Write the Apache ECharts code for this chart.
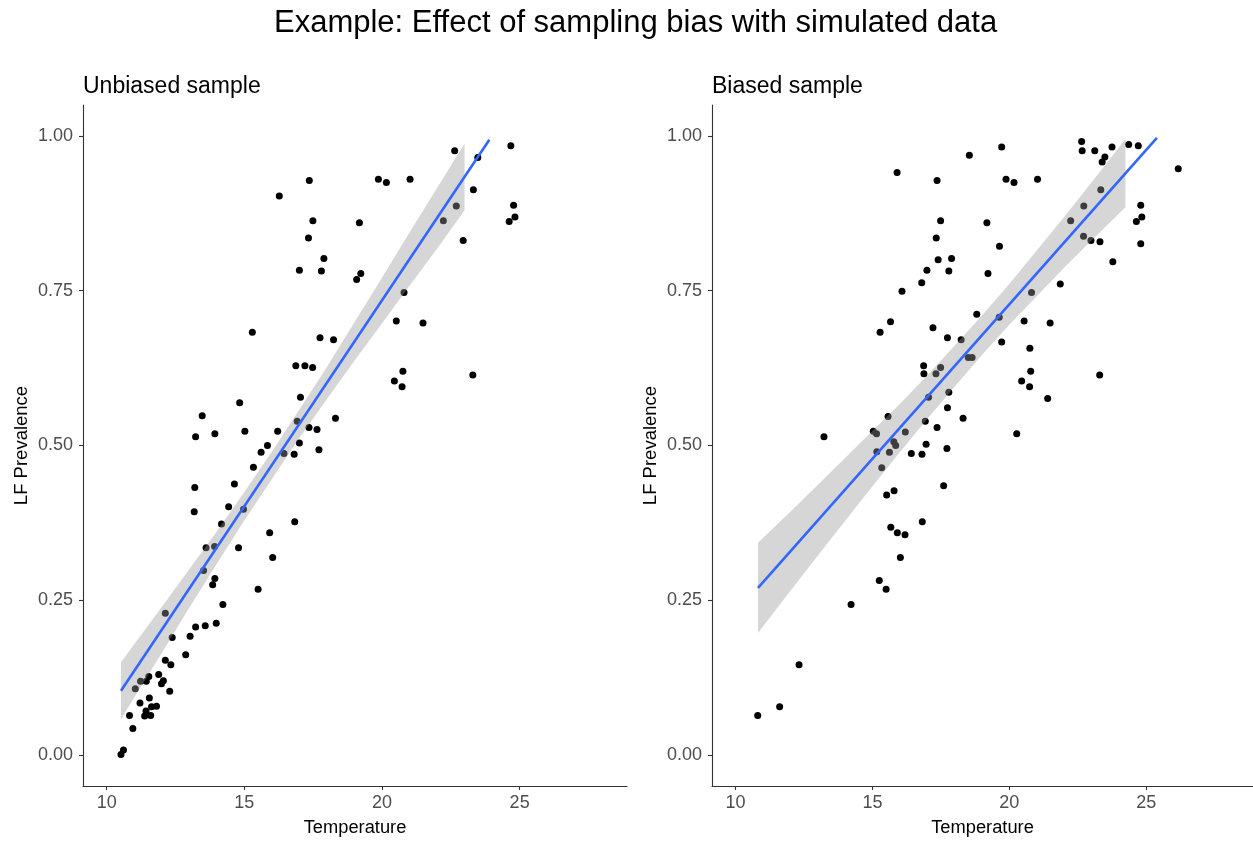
<!DOCTYPE html>
<html>
<head>
<meta charset="utf-8">
<script src="https://cdn.jsdelivr.net/npm/echarts@6/dist/echarts.min.js"></script>
<style>
html,body{margin:0;padding:0;background:#fff;}
#chart{width:1253px;height:842px;}
</style>
</head>
<body>
<div id="chart"></div>
<script>
// ---------- data ----------
const mainTitle = "Example: Effect of sampling bias with simulated data";
const panelTitles = ["Unbiased sample", "Biased sample"];
const xAxisTitle = "Temperature";
const yAxisTitle = "LF Prevalence";
const xTicks = [10, 15, 20, 25];
const yTicks = [0, 0.25, 0.5, 0.75, 1];

// Unbiased sample points [temperature, prevalence]
const unbiasedPoints = [
  [17.36,0.928],[16.27,0.903],[17.49,0.863],[17.33,0.835],[17.89,0.802],[17.00,0.783],[17.80,0.782],
  [19.18,0.860],[19.08,0.768],[19.23,0.778],[15.29,0.683],[17.75,0.674],[18.24,0.671],[16.87,0.629],
  [17.20,0.629],[17.48,0.626],[17.04,0.578],[14.83,0.569],[13.47,0.548],[13.23,0.514],[13.93,0.519],
  [15.02,0.523],[16.21,0.523],[18.31,0.544],[17.35,0.529],[17.64,0.526],[16.92,0.539],[17.00,0.504],
  [15.84,0.500],[17.71,0.493],[15.61,0.489],[16.44,0.487],[16.81,0.486],[15.33,0.465],[14.64,0.438],
  [13.20,0.432],[14.43,0.401],[14.97,0.397],[13.18,0.393],[14.17,0.373],[16.83,0.377],[15.92,0.359],
  [13.61,0.335],[13.92,0.337],[14.79,0.335],[16.03,0.319],[13.52,0.298],[13.93,0.285],[13.85,0.275],
  [15.50,0.268],[14.22,0.243],[12.13,0.229],[13.23,0.207],[13.58,0.209],[13.98,0.213],[13.03,0.192],
  [12.38,0.190],[12.87,0.162],[12.13,0.153],[12.33,0.146],[11.89,0.130],[11.53,0.127],[11.44,0.119],
  [11.23,0.119],[12.06,0.120],[11.99,0.115],[11.04,0.107],[12.29,0.103],[11.21,0.084],[11.55,0.092],
  [11.81,0.079],[11.63,0.078],[11.43,0.071],[11.38,0.063],[11.60,0.064],[10.83,0.064],[10.95,0.043],
  [10.61,0.008],[10.52,0.001],[22.64,0.976],[23.48,0.965],[24.68,0.984],[19.87,0.930],[20.16,0.925],
  [21.02,0.930],[23.32,0.913],[22.70,0.887],[22.23,0.863],[24.78,0.888],[24.83,0.869],[24.62,0.862],
  [22.95,0.831],[20.80,0.747],[20.52,0.701],[21.49,0.698],[20.76,0.620],[20.45,0.604],[20.73,0.595],
  [23.30,0.614]
];

// Biased sample points [temperature, prevalence]
const biasedPoints = [
  [18.54,0.969],[15.90,0.941],[17.36,0.928],[17.49,0.863],[19.18,0.860],[17.33,0.835],[17.40,0.800],
  [17.89,0.802],[16.99,0.783],[17.79,0.782],[19.22,0.778],[16.80,0.763],[16.08,0.749],[18.81,0.712],
  [15.66,0.700],[15.28,0.683],[17.21,0.690],[17.74,0.674],[18.24,0.671],[18.50,0.642],[18.64,0.642],
  [16.87,0.629],[16.88,0.616],[17.49,0.626],[17.32,0.616],[17.05,0.578],[17.79,0.586],[17.74,0.561],
  [15.57,0.547],[18.31,0.544],[16.93,0.539],[17.36,0.529],[13.23,0.514],[15.03,0.523],[15.15,0.519],
  [16.20,0.522],[16.96,0.502],[17.72,0.495],[15.78,0.506],[15.85,0.500],[15.16,0.490],[15.62,0.489],
  [16.42,0.487],[16.81,0.486],[15.34,0.464],[15.52,0.420],[15.79,0.427],[17.60,0.435],[16.82,0.377],
  [15.67,0.368],[15.91,0.359],[16.19,0.356],[16.02,0.319],[15.25,0.282],[15.50,0.268],[14.22,0.243],
  [12.32,0.146],[11.61,0.078],[10.81,0.064],[22.64,0.991],[22.66,0.976],[23.12,0.976],[23.75,0.982],
  [24.36,0.986],[24.71,0.984],[23.49,0.966],[23.39,0.958],[19.72,0.982],[26.17,0.947],[19.88,0.930],
  [20.17,0.925],[21.03,0.930],[23.34,0.913],[22.72,0.887],[22.24,0.863],[24.80,0.888],[24.84,0.869],
  [24.64,0.862],[22.71,0.838],[22.98,0.831],[23.31,0.829],[24.80,0.826],[19.64,0.822],[23.78,0.797],
  [21.86,0.761],[20.81,0.747],[19.63,0.707],[20.54,0.701],[21.49,0.698],[19.72,0.667],[20.75,0.657],
  [20.78,0.620],[20.45,0.604],[20.74,0.595],[23.30,0.614],[21.40,0.576],[20.27,0.519]
];

// Fitted lines (end points)
const unbiasedFitX = [10.52, 23.90];
const unbiasedFitY = [0.104, 0.994];
const biasedFitX = [10.82, 25.39];
const biasedFitY = [0.270, 0.997];

// Confidence bands
const unbiasedBandX     = [10.52, 11, 12, 13, 14, 15, 16, 17, 18, 19, 20, 21, 22, 23.0];
const unbiasedBandLower = [0.058,0.093,0.165,0.238,0.309,0.379,0.446,0.512,0.575,0.637,0.697,0.758,0.818,0.880];
const unbiasedBandUpper = [0.150,0.179,0.239,0.300,0.361,0.425,0.490,0.558,0.627,0.699,0.771,0.844,0.916,0.988];
const biasedBandX     = [10.82, 12, 13, 14, 15, 16, 17, 18, 19, 20, 21, 22, 23, 24.24];
const biasedBandLower = [0.197,0.265,0.322,0.378,0.434,0.489,0.543,0.595,0.646,0.695,0.741,0.787,0.831,0.885];
const biasedBandUpper = [0.343,0.393,0.436,0.480,0.524,0.567,0.613,0.661,0.710,0.761,0.815,0.869,0.925,0.995];

// ---------- chart ----------
const FONT = "Liberation Sans, Arial, Helvetica, sans-serif";
const chart = echarts.init(document.getElementById('chart'), null, {renderer: 'canvas'});

function zip(xs, ys){ return xs.map((x,i)=>[x, ys[i]]); }
function bandData(xs, lo, hi){ return xs.map((x,i)=>[x, lo[i], hi[i]]); }

function xAxisDef(gi){
  return {
    type:'value', gridIndex:gi, min:9.14, max:28.9,
    splitLine:{show:false},
    axisLine:{show:true, onZero:false, lineStyle:{color:'#333', width:1.1}},
    axisTick:{show:true, length:4, customValues:xTicks, lineStyle:{color:'#333', width:1.1}},
    axisLabel:{show:true, customValues:xTicks, color:'#4d4d4d', fontSize:18, fontFamily:FONT, margin:8},
    name:xAxisTitle, nameLocation:'middle', nameGap:33,
    nameTextStyle:{color:'#000', fontSize:18.3, fontFamily:FONT}
  };
}
function yAxisDef(gi){
  return {
    type:'value', gridIndex:gi, min:-0.05, max:1.05,
    splitLine:{show:false},
    axisLine:{show:true, onZero:false, lineStyle:{color:'#333', width:1.1}},
    axisTick:{show:true, length:4, customValues:yTicks, lineStyle:{color:'#333', width:1.1}},
    axisLabel:{show:true, customValues:yTicks, color:'#4d4d4d', fontSize:18, fontFamily:FONT, margin:10,
      formatter:function(v){ return v.toFixed(2); }},
    name:yAxisTitle, nameLocation:'middle', nameGap:52, nameRotate:90,
    nameTextStyle:{color:'#000', fontSize:18.5, fontFamily:FONT}
  };
}

function bandSeries(gi, xs, lo, hi){
  const data = bandData(xs, lo, hi);
  return {
    type:'custom', xAxisIndex:gi, yAxisIndex:gi, z:3, silent:true,
    data:data,
    encode:{x:0, y:[1,2]},
    renderItem:function(params, api){
      if (params.dataIndex !== 0) return {type:'group', children:[]};
      const pts = [];
      for (let i=0;i<data.length;i++) pts.push(api.coord([data[i][0], data[i][2]]));
      for (let i=data.length-1;i>=0;i--) pts.push(api.coord([data[i][0], data[i][1]]));
      return {type:'polygon', shape:{points:pts}, style:{fill:'rgba(153,153,153,0.4)', stroke:null}};
    }
  };
}

const option = {
  backgroundColor:'#fff',
  animation:false,
  title:[
    {text:mainTitle, left:274, top:8, padding:0, textStyle:{fontSize:31, fontWeight:'normal', color:'#000', fontFamily:FONT}},
    {text:panelTitles[0], left:83, top:75, padding:0, textStyle:{fontSize:23, fontWeight:'normal', color:'#000', fontFamily:FONT}},
    {text:panelTitles[1], left:712, top:75, padding:0, textStyle:{fontSize:23, fontWeight:'normal', color:'#000', fontFamily:FONT}}
  ],
  grid:[
    {left:83, top:105, width:544, height:687, containLabel:false},
    {left:712, top:105, width:543, height:687, containLabel:false}
  ],
  xAxis:[xAxisDef(0), xAxisDef(1)],
  yAxis:[yAxisDef(0), yAxisDef(1)],
  series:[
    {type:'scatter', xAxisIndex:0, yAxisIndex:0, data:unbiasedPoints, symbolSize:7,
      itemStyle:{color:'#000', opacity:1}, z:2, silent:true},
    bandSeries(0, unbiasedBandX, unbiasedBandLower, unbiasedBandUpper),
    {type:'line', xAxisIndex:0, yAxisIndex:0, data:zip(unbiasedFitX, unbiasedFitY), symbol:'none',
      lineStyle:{color:'#3366FF', width:2.6}, z:4, silent:true},

    {type:'scatter', xAxisIndex:1, yAxisIndex:1, data:biasedPoints, symbolSize:7,
      itemStyle:{color:'#000', opacity:1}, z:2, silent:true},
    bandSeries(1, biasedBandX, biasedBandLower, biasedBandUpper),
    {type:'line', xAxisIndex:1, yAxisIndex:1, data:zip(biasedFitX, biasedFitY), symbol:'none',
      lineStyle:{color:'#3366FF', width:2.6}, z:4, silent:true}
  ]
};
chart.setOption(option);
</script>
</body>
</html>
